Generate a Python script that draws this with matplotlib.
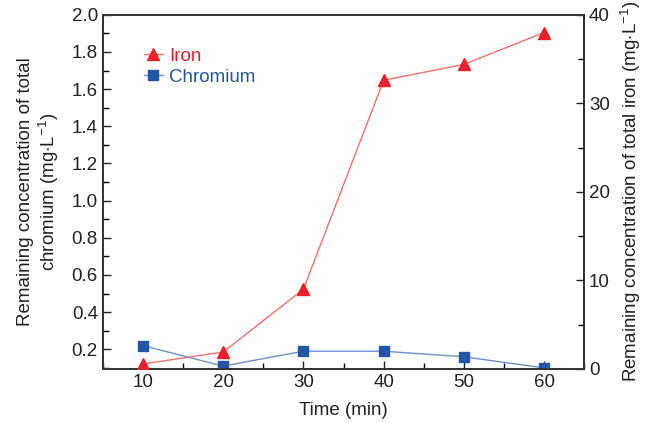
import matplotlib
matplotlib.use("Agg")
import matplotlib.pyplot as plt
from matplotlib.ticker import MultipleLocator

plt.rcParams['font.family'] = ['Liberation Sans', 'DejaVu Sans']
plt.rcParams['mathtext.fontset'] = 'custom'
plt.rcParams['mathtext.rm'] = 'Liberation Sans'
plt.rcParams['mathtext.it'] = 'Liberation Sans:italic'

time_min = [10, 20, 30, 40, 50, 60]
iron = [0.55, 1.9, 9.0, 32.6, 34.4, 38.0]
chromium = [0.22, 0.11, 0.19, 0.19, 0.16, 0.10]

fig = plt.figure(figsize=(6.55, 4.23), dpi=100)
ax = fig.add_axes([0.157, 0.128, 0.735, 0.837])
ax2 = ax.twinx()

red_m = '#e8202a'
red_l = '#f4706a'
blue_m = '#2356a6'
blue_l = '#6d8fd0'

lc, = ax.plot(time_min, chromium, color=blue_l, lw=1.0, marker='s', ms=7,
              mfc=blue_m, mec=blue_m, label='Chromium', zorder=3)
li, = ax2.plot(time_min, iron, color=red_l, lw=1.0, marker='^', ms=8,
               mfc=red_m, mec=red_m, label='Iron', zorder=3)

ax.set_xlim(5, 65)
ax.set_ylim(0.095, 2.0)
ax2.set_ylim(0, 40)

ax.xaxis.set_major_locator(MultipleLocator(10))
ax.xaxis.set_minor_locator(MultipleLocator(5))
ax.yaxis.set_major_locator(MultipleLocator(0.2))
ax.yaxis.set_minor_locator(MultipleLocator(0.1))
ax2.yaxis.set_major_locator(MultipleLocator(10))
ax2.yaxis.set_minor_locator(MultipleLocator(5))
ax.yaxis.set_major_formatter(matplotlib.ticker.FormatStrFormatter('%.1f'))

fs = 13.5
for a in (ax, ax2):
    a.tick_params(which='major', direction='in', length=6, width=1.0, labelsize=fs, colors='#222222')
    a.tick_params(which='minor', direction='in', length=4, width=1.0)
    for s in a.spines.values():
        s.set_linewidth(1.3)
        s.set_color('#333333')
ax.tick_params(axis='x', which='both', top=False)
ax2.tick_params(axis='y', which='both', right=True)
ax.tick_params(axis='y', which='both', right=False)

ax.set_xlabel('Time (min)', fontsize=fs, color='#222222', labelpad=8)
ax.set_ylabel('Remaining concentration of total\nchromium (mg$\\cdot$L$^{-1}$)',
              fontsize=fs, color='#222222', linespacing=1.15, labelpad=8)
ax2.set_ylabel('Remaining concentration of total iron (mg$\\cdot$L$^{-1}$)',
               fontsize=fs, color='#222222', labelpad=6)

leg = ax.legend([li, lc], ['Iron', 'Chromium'], loc='upper left',
                bbox_to_anchor=(0.05, 0.955), frameon=False, fontsize=13.5,
                handlelength=1.0, handletextpad=0.35, labelspacing=0.2)
for t, c in zip(leg.get_texts(), [red_m, blue_m]):
    t.set_color(c)

fig.savefig('out.png', dpi=100)
